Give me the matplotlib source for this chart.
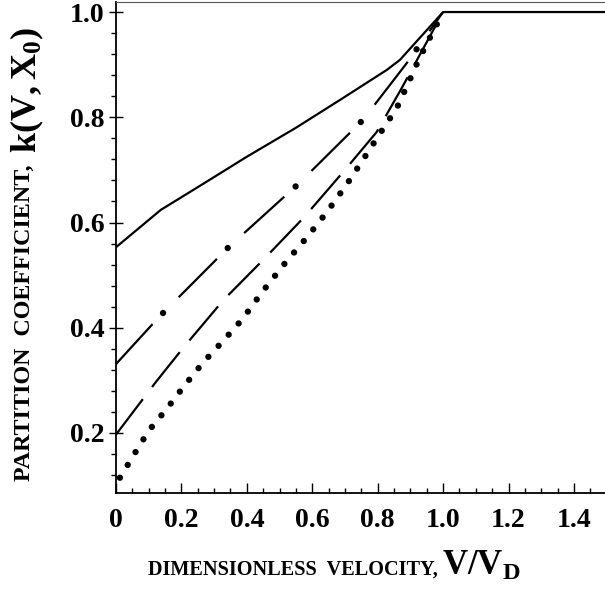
import matplotlib
matplotlib.use("Agg")
import matplotlib.pyplot as plt
from matplotlib.ticker import MultipleLocator, FixedLocator, FixedFormatter

plt.rcParams['font.family'] = ['Liberation Serif', 'DejaVu Serif']
plt.rcParams['font.weight'] = 'bold'
plt.rcParams['mathtext.fontset'] = 'custom'
plt.rcParams['mathtext.rm'] = 'Liberation Serif:bold'
plt.rcParams['mathtext.it'] = 'Liberation Serif:bold'
plt.rcParams['lines.scale_dashes'] = False

# curves
x_solid = [0, 0.137, 0.26, 0.4, 0.55, 0.685, 0.828, 0.868, 1.0, 1.5]
y_solid = [0.553, 0.624, 0.671, 0.725, 0.78, 0.833, 0.89, 0.909, 1.0, 1.0]

x_dashdot = [0, 0.131, 0.344, 0.557, 0.755, 0.889, 1.0]
y_dashdot = [0.331, 0.42, 0.553, 0.673, 0.795, 0.903, 1.0]

x_dash = [0, 0.122, 0.207, 0.329, 0.45, 0.575, 0.70, 0.797, 0.874, 1.0]
y_dash = [0.197, 0.297, 0.363, 0.453, 0.529, 0.61, 0.70, 0.772, 0.856, 1.0]

x_dot = [0.012, 0.056, 0.101, 0.154, 0.208, 0.265, 0.329, 0.386, 0.447, 0.517,
         0.584, 0.645, 0.706, 0.758, 0.81, 0.858, 0.898, 0.925, 1.0]
y_dot = [0.115, 0.16, 0.205, 0.245, 0.289, 0.333, 0.376, 0.416, 0.468, 0.523,
         0.572, 0.62, 0.673, 0.722, 0.772, 0.817, 0.871, 0.909, 1.0]

xticks = [0, 0.2, 0.4, 0.6, 0.8, 1.0, 1.2, 1.4]
xticklabels = ['0', '0.2', '0.4', '0.6', '0.8', '1.0', '1.2', '1.4']
yticks = [0.2, 0.4, 0.6, 0.8, 1.0]
yticklabels = ['0.2', '0.4', '0.6', '0.8', '1.0']

fig = plt.figure(figsize=(6.05, 5.93), dpi=100)
ax = fig.add_axes([0.1917, 0.1691, 0.8083, 0.828])

ax.plot(x_solid, y_solid, color='black', lw=1.6, solid_capstyle='butt')
# long dash + dot
ax.plot(x_dashdot, y_dashdot, color='black', lw=1.6, dashes=(39, 27))
ax.plot(x_dashdot, y_dashdot, color='black', lw=4.6, dash_capstyle='round',
        linestyle=(-50, (0.01, 65.99)))
# long dash
ax.plot(x_dash, y_dash, color='black', lw=1.6, dashes=(32, 11))
# dots
ax.plot(x_dot, y_dot, color='black', lw=4.6, dash_capstyle='round',
        linestyle=(0, (0.01, 10.8)), clip_on=False)

ax.set_xlim(0, 1.495)
ax.set_ylim(0.0865, 1.0196)

ax.xaxis.set_major_locator(FixedLocator(xticks))
ax.xaxis.set_major_formatter(FixedFormatter(xticklabels))
ax.yaxis.set_major_locator(FixedLocator(yticks))
ax.yaxis.set_major_formatter(FixedFormatter(yticklabels))
ax.xaxis.set_minor_locator(MultipleLocator(0.05))
ax.yaxis.set_minor_locator(MultipleLocator(0.04))

ax.tick_params(axis='x', which='major', direction='in', length=7, width=1, labelsize=20, pad=11)
ax.tick_params(axis='x', which='minor', direction='in', length=3.5, width=1)
ax.tick_params(axis='y', which='major', direction='inout', length=10, width=1, labelsize=20, pad=3)
ax.tick_params(axis='y', which='minor', direction='out', length=3.5, width=1)

ax.spines['right'].set_visible(False)
ax.spines['left'].set_linewidth(1.3)
ax.spines['bottom'].set_linewidth(1.3)
ax.spines['top'].set_linewidth(0.8)
ax.spines['top'].set_color('#555555')

W, H = 605.0, 593.0
fig.text(148 / W, 1 - 575 / H, 'DIMENSIONLESS  VELOCITY,', fontsize=14.6,
         ha='left', va='baseline')
fig.text(442 / W, 1 - 575 / H, r'$\mathrm{V/V_D}$', fontsize=25,
         ha='left', va='baseline')
fig.text(35 / W, 1 - 481 / H, 'PARTITION  COEFFICIENT,', fontsize=17.3,
         rotation=90, ha='right', va='bottom')
fig.text(46 / W, 1 - 153 / H, r'$\mathrm{k(V,X_0)}$', fontsize=26,
         rotation=90, ha='right', va='bottom')

fig.savefig('out.png', dpi=100)
